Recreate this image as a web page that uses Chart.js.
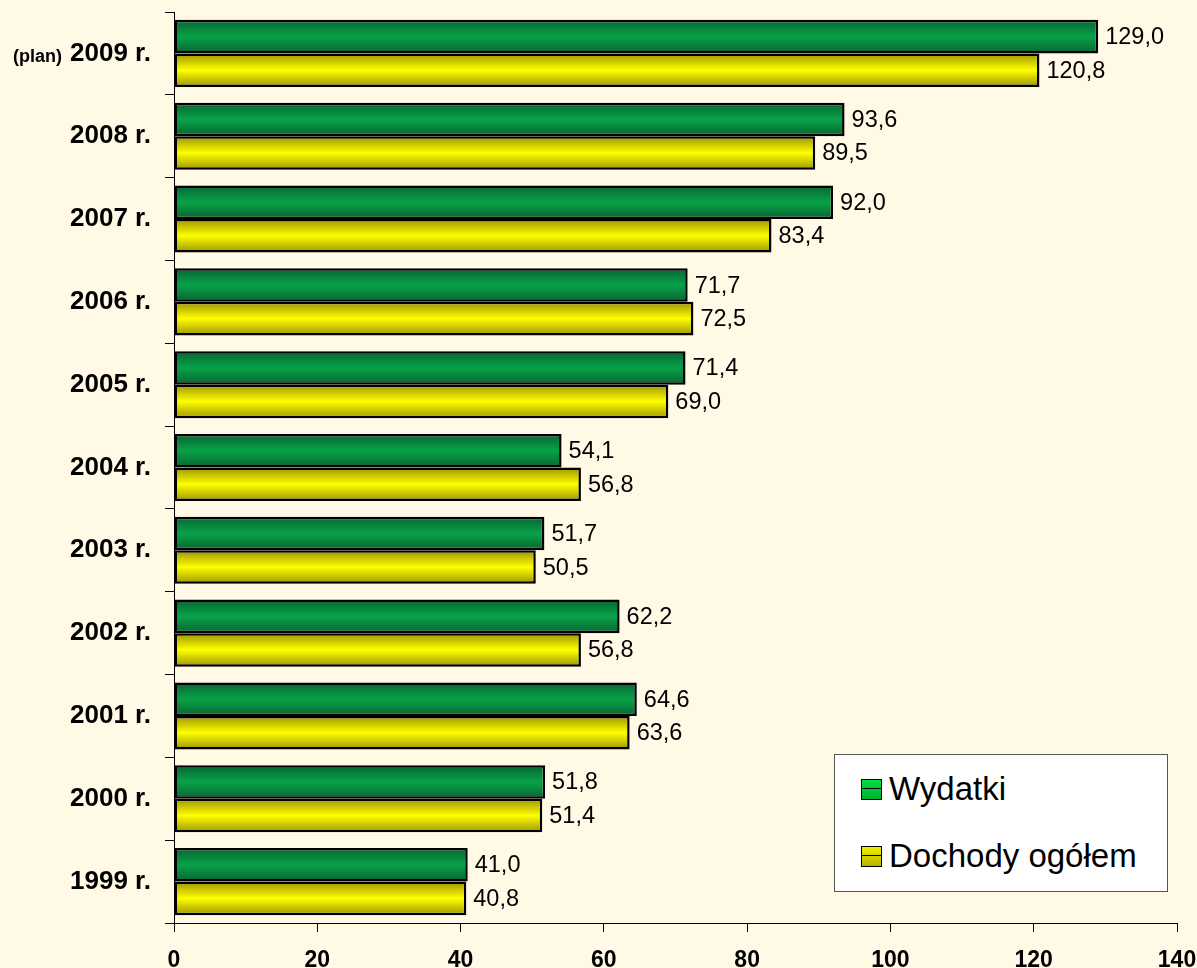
<!DOCTYPE html>
<html>
<head>
<meta charset="utf-8">
<script src="https://cdn.jsdelivr.net/npm/chart.js@4.4.1/dist/chart.umd.min.js"></script>
<style>
    body { margin: 0; background: #FFF9E6; font-family: "Liberation Sans", Arial, sans-serif; }
    #wrap { position: relative; width: 1197px; height: 968px; }
    #legend {
        position: absolute; left: 834px; top: 754px; width: 332px; height: 136px;
        background: #fff; border: 1.5px solid #555;
    }
    .item { position: absolute; left: 26px; display: flex; align-items: center; font-size: 33px; color: #000; }
    .mark { width: 21px; height: 21px; border: 1.5px solid #000; margin-right: 7px; box-sizing: border-box; position: relative; }
    .mark::after { content: ''; position: absolute; left: 0; right: 0; top: 8px; height: 1.5px; background: #000; }
</style>
</head>
<body>
<div id="wrap">
    <canvas id="chart" width="1197" height="968"></canvas>
    <div id="legend">
        <div class="item" style="top: 15px;"><span class="mark" style="background: linear-gradient(#00e040, #00b030);"></span>Wydatki</div>
        <div class="item" style="top: 82px;"><span class="mark" style="background: linear-gradient(#f0f000, #b8b000);"></span>Dochody ogółem</div>
    </div>
</div>
<script>
// data (top to bottom)
const years = ['2009 r.', '2008 r.', '2007 r.', '2006 r.', '2005 r.', '2004 r.', '2003 r.', '2002 r.', '2001 r.', '2000 r.', '1999 r.'];
const wydatki = [129.0, 93.6, 92.0, 71.7, 71.4, 54.1, 51.7, 62.2, 64.6, 51.8, 41.0];
const dochody = [120.8, 89.5, 83.4, 72.5, 69.0, 56.8, 50.5, 56.8, 63.6, 51.4, 40.8];
const xTicks = [0, 20, 40, 60, 80, 100, 120, 140];

const FONT = '"Liberation Sans", Arial, sans-serif';
const CAT_PCT = 0.81;

// vertical "tube" gradient for each bar, placed with the y scale
function tubeGradient(stops, slot) {
    return (context) => {
        const chart = context.chart;
        const yScale = chart.scales.y;
        if (!yScale || context.dataIndex === undefined || !yScale.height) return stops[1];
        const catH = yScale.height / years.length;
        const barH = catH * CAT_PCT / 2;
        const c = yScale.getPixelForValue(context.dataIndex);
        const top = slot === 0 ? c - barH : c;
        const g = chart.ctx.createLinearGradient(0, top, 0, top + barH);
        g.addColorStop(0, stops[0]);
        g.addColorStop(0.5, stops[1]);
        g.addColorStop(1, stops[0]);
        return g;
    };
}

const valueLabels = {
    id: 'valueLabels',
    afterDatasetsDraw(chart) {
        const ctx = chart.ctx;
        ctx.save();
        ctx.font = '23.5px ' + FONT;
        ctx.fillStyle = '#000';
        ctx.textBaseline = 'middle';
        ctx.textAlign = 'left';
        chart.data.datasets.forEach((ds, i) => {
            chart.getDatasetMeta(i).data.forEach((bar, j) => {
                ctx.fillText(ds.data[j].toFixed(1).replace('.', ','), bar.x + 7, bar.y + 1);
            });
        });
        ctx.restore();
    }
};

const planLabel = {
    id: 'planLabel',
    afterDraw(chart) {
        const ctx = chart.ctx;
        const y = chart.scales.y.getPixelForValue(0);
        ctx.save();
        ctx.font = 'bold 18px ' + FONT;
        ctx.fillStyle = '#000';
        ctx.textAlign = 'right';
        ctx.textBaseline = 'alphabetic';
        ctx.fillText('(plan)', 62, y + 9);
        ctx.restore();
    }
};

new Chart(document.getElementById('chart'), {
    type: 'bar',
    data: {
        labels: years,
        datasets: [
            {
                label: 'Wydatki',
                data: wydatki,
                backgroundColor: tubeGradient(['#086432', '#08a248'], 0),
                borderColor: '#000',
                borderWidth: 2.5,
                borderSkipped: false
            },
            {
                label: 'Dochody ogółem',
                data: dochody,
                backgroundColor: tubeGradient(['#9c9400', '#ffff00'], 1),
                borderColor: '#000',
                borderWidth: 2.5,
                borderSkipped: false
            }
        ]
    },
    options: {
        indexAxis: 'y',
        responsive: false,
        animation: false,
        datasets: { bar: { categoryPercentage: CAT_PCT, barPercentage: 1 } },
        layout: { padding: { top: 12, right: 20, bottom: 0, left: 0 } },
        plugins: { legend: { display: false }, tooltip: { enabled: false } },
        scales: {
            x: {
                min: 0,
                max: 140,
                afterBuildTicks: (scale) => { scale.ticks = xTicks.map(v => ({ value: v })); },
                afterFit: (scale) => {
                    scale.height = 45;
                    scale.paddingLeft = 0;
                    scale.paddingRight = 0;
                },
                grid: { drawOnChartArea: false, tickLength: 9, color: '#000' },
                border: { color: '#000', width: 1 },
                ticks: { color: '#000', padding: 15, font: { family: FONT, size: 23, weight: 'bold' } }
            },
            y: {
                afterFit: (scale) => {
                    scale.width = 174;
                    scale.paddingTop = 0;
                    scale.paddingBottom = 0;
                },
                grid: { drawOnChartArea: false, tickLength: 9, color: '#000', offset: true },
                border: { color: '#000', width: 1 },
                ticks: { color: '#000', padding: 14, font: { family: FONT, size: 26, weight: 'bold' } }
            }
        }
    },
    plugins: [valueLabels, planLabel]
});
</script>
</body>
</html>
